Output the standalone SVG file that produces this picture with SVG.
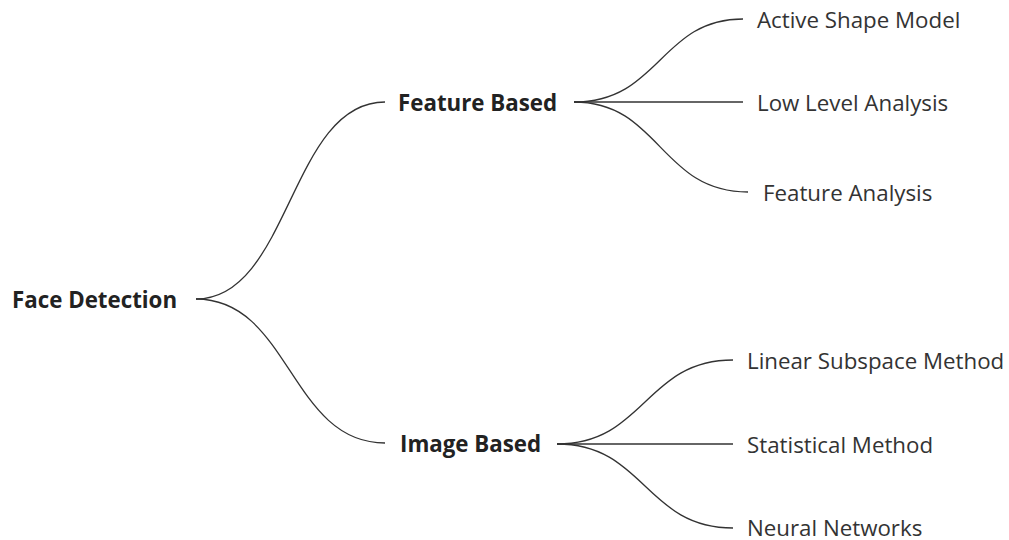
<svg xmlns="http://www.w3.org/2000/svg" width="1009" height="540" viewBox="0 0 1009 540">
<style>
.b{font-family:"Open Sans","Liberation Sans",sans-serif;font-weight:bold;font-size:22.3px;fill:#222;dominant-baseline:central}
.r{font-family:"Open Sans","Liberation Sans",sans-serif;font-size:22.3px;fill:#333;dominant-baseline:central}
.c path{fill:none;stroke:#333;stroke-width:1.3}
</style>
<rect width="1009" height="540" fill="#fff"/>
<g class="c" id="connectors">
<path d="M196 299 C290 299 290 102 385 102"/>
<path d="M196 299 C290 299 290 443 385 443"/>
<path d="M574 102 C660 102 660 19 743 19"/>
<path d="M574 102 L743 102"/>
<path d="M574 102 C660 102 660 192 748 192"/>
<path d="M557 444 C645 444 645 360 733 360"/>
<path d="M557 444 L733 444"/>
<path d="M557 444 C645 444 645 528 733 528"/>
</g>
<g id="face"><text class="b" x="12" y="299">Face Detection</text></g>
<g id="feature"><text class="b" x="398" y="102">Feature Based</text></g>
<g id="image"><text class="b" x="400" y="443">Image Based</text></g>
<g id="asm"><text class="r" x="757" y="19">Active Shape Model</text></g>
<g id="lla"><text class="r" x="757" y="102">Low Level Analysis</text></g>
<g id="fa"><text class="r" x="763" y="192">Feature Analysis</text></g>
<g id="lsm"><text class="r" x="747" y="360">Linear Subspace Method</text></g>
<g id="sm"><text class="r" x="747" y="444">Statistical Method</text></g>
<g id="nn"><text class="r" x="747" y="527">Neural Networks</text></g>
</svg>
